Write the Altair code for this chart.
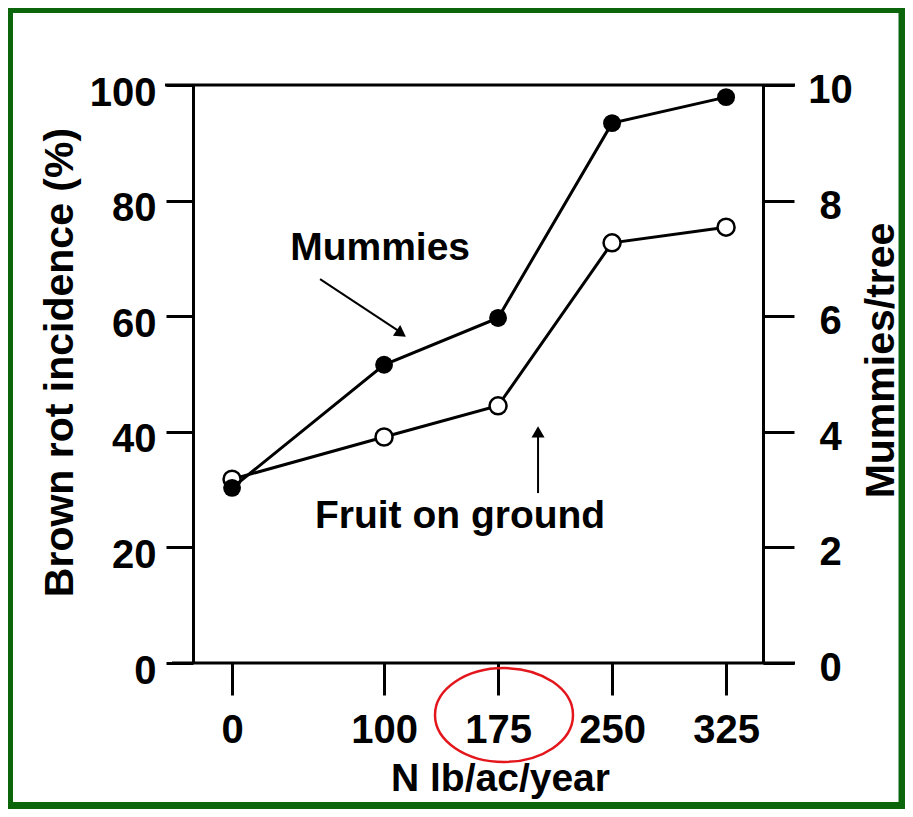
import altair as alt
import pandas as pd

# ---------------- data ----------------
n_rate = [0, 100, 175, 250, 325]
fruit_on_ground = [31.8, 39.1, 44.5, 72.7, 75.4]     # Brown rot incidence (%)
mummies_per_tree = [3.03, 5.16, 5.97, 9.34, 9.79]    # Mummies/tree (right axis)

x_ticks = [0, 100, 175, 250, 325]
left_ticks = [0, 20, 40, 60, 80, 100]
right_ticks = [0, 2, 4, 6, 8, 10]

note_text = ["Mummies", "Fruit on ground"]
note_x = [97.4, 150.0]
note_y = [69.7, 23.4]

arrow_x = [57.9, 201.3]
arrow_y = [66.4, 29.4]
arrow_x2 = [110.5, 201.3]
arrow_y2 = [57.3, 39.5]
head_x = [111.3, 201.3]
head_y = [57.0, 40.0]
head_angle = [124, 0]

FONT = "Liberation Sans"
GREEN = "#0b660b"
RED = "#e3161c"

series = pd.DataFrame({"n": n_rate, "fruit": fruit_on_ground, "mummies": mummies_per_tree})
notes = pd.DataFrame({"t": note_text, "x": note_x, "y": note_y})
arrows = pd.DataFrame({"x": arrow_x, "y": arrow_y, "x2": arrow_x2, "y2": arrow_y2,
                       "hx": head_x, "hy": head_y, "ang": head_angle})
one = pd.DataFrame({"k": [1]})

x_scale = alt.Scale(domain=[-25.7, 349.3], nice=False, zero=False)
yl_scale = alt.Scale(domain=[0, 100], nice=False, zero=False)
yr_scale = alt.Scale(domain=[0, 10], nice=False, zero=False)

x_axis = alt.Axis(values=x_ticks, title="N lb/ac/year", grid=False, domain=False,
                  tickSize=32, tickWidth=3, tickColor="black", format="d",
                  labelFont=FONT, labelFontSize=40, labelFontWeight="bold", labelColor="black",
                  labelPadding=47, labelBaseline="alphabetic", labelFlush=False, labelOverlap=False,
                  titleFont=FONT, titleFontSize=39, titleFontWeight="bold", titleColor="black",
                  titleX=307, titleY=127, titleAlign="center", titleBaseline="alphabetic")

yl_axis = alt.Axis(values=left_ticks, title="Brown rot incidence (%)", grid=False, format="d",
                   domain=True, domainColor="black", domainWidth=3,
                   tickSize=27, tickWidth=3, tickColor="black",
                   labelFont=FONT, labelFontSize=40, labelFontWeight="bold", labelColor="black",
                   labelPadding=10, labelAlign="right", labelBaseline="alphabetic", labelOffset=20,
                   labelFlush=False, labelOverlap=False,
                   titleFont=FONT, titleFontSize=41, titleFontWeight="bold", titleColor="black",
                   titleAngle=270, titleX=-121, titleY=277, titleAlign="center",
                   titleBaseline="alphabetic")

yr_axis = alt.Axis(values=right_ticks, title="Mummies/tree", orient="right", grid=False, format="d",
                   domain=True, domainColor="black", domainWidth=3,
                   tickSize=31, tickWidth=3, tickColor="black",
                   labelFont=FONT, labelFontSize=40, labelFontWeight="bold", labelColor="black",
                   labelPadding=36, labelAlign="center", labelBaseline="alphabetic", labelOffset=17.5,
                   labelFlush=False, labelOverlap=False,
                   titleFont=FONT, titleFontSize=41, titleFontWeight="bold", titleColor="black",
                   titleAngle=270, titleX=130, titleY=275, titleAlign="center",
                   titleBaseline="alphabetic")

X = alt.X("n:Q", scale=x_scale, axis=x_axis)

# ---------- left group ----------
border = alt.Chart(one).mark_rect(fillOpacity=0, stroke=GREEN, strokeWidth=7).encode(
    x=alt.value(-183.5), x2=alt.value(709), y=alt.value(-75.5), y2=alt.value(720.5))

top_line = alt.Chart(one).mark_rule(color="black", strokeWidth=3).encode(
    x=alt.value(-28), x2=alt.value(602), y=alt.value(0))
bottom_line = alt.Chart(one).mark_rule(color="black", strokeWidth=3).encode(
    x=alt.value(-21), x2=alt.value(602), y=alt.value(578))

fruit_line = alt.Chart(series).mark_line(color="black", strokeWidth=3).encode(
    x=X, y=alt.Y("fruit:Q", scale=yl_scale, axis=yl_axis))
fruit_pts = alt.Chart(series).mark_point(shape="circle", filled=True, fill="white",
                                         stroke="black", strokeWidth=2.5, size=290, opacity=1).encode(
    x="n:Q", y="fruit:Q")

note_marks = alt.Chart(notes).mark_text(font=FONT, fontSize=39, fontWeight="bold", color="black",
                                        align="center", baseline="alphabetic").encode(
    x="x:Q", y="y:Q", text="t:N")

arrow_shafts = alt.Chart(arrows).mark_rule(color="black", strokeWidth=2).encode(
    x="x:Q", y="y:Q", x2="x2:Q", y2="y2:Q")
arrow_heads = alt.Chart(arrows).mark_point(shape="triangle-up", filled=True, color="black",
                                           size=170, opacity=1).encode(
    x=alt.X("hx:Q"), y=alt.Y("hy:Q"), angle=alt.Angle("ang:Q", scale=None))

ellipse = alt.Chart(one).mark_point(
    shape="M -1 0 A 1 0.68 0 1 0 1 0 A 1 0.68 0 1 0 -1 0 Z",
    filled=False, stroke=RED, strokeWidth=2.5, size=19044, opacity=1).encode(
    x=alt.value(311), y=alt.value(630))

left = alt.layer(fruit_line, fruit_pts, note_marks, arrow_shafts, arrow_heads,
                 top_line, bottom_line, ellipse, border)

# ---------- right group ----------
mum_line = alt.Chart(series).mark_line(color="black", strokeWidth=3).encode(
    x=X, y=alt.Y("mummies:Q", scale=yr_scale, axis=yr_axis))
mum_pts = alt.Chart(series).mark_point(shape="circle", filled=True, color="black",
                                       size=320, opacity=1).encode(
    x="n:Q", y="mummies:Q")
right = alt.layer(mum_line, mum_pts)

chart = alt.layer(left, right).resolve_scale(y="independent").properties(
    width=570, height=578,
    padding={"left": 185, "top": 77, "right": 142, "bottom": 146},
    autosize=alt.AutoSizeParams(type="none"),
    background="white",
).configure_view(strokeWidth=0)

chart.save("out.html", embed_options={"renderer": "svg", "actions": False})
